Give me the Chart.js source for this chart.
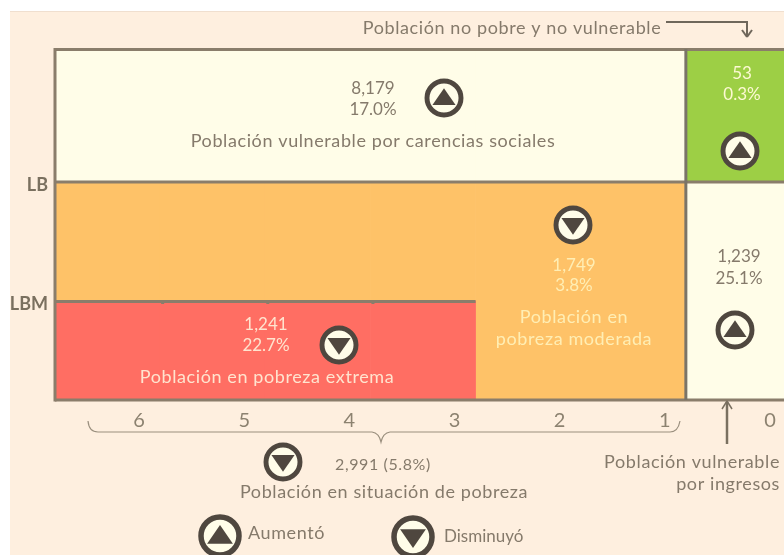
<!DOCTYPE html>
<html>
<head>
<meta charset="utf-8">
<title>Pobreza multidimensional</title>
<script src="https://cdn.jsdelivr.net/npm/chart.js@4/dist/chart.umd.min.js"></script>
<style>
  html, body { margin: 0; padding: 0; background: white; overflow: hidden; }
  #wrap { width: 784px; height: 555px; overflow: hidden; }
</style>
</head>
<body>
<div id="wrap"><canvas id="chart" width="800" height="555"></canvas></div>
<script>
// Carencias sociales on the x axis, income bands on the y axis
var categories = ['6', '5', '4', '3', '2', '1', '0'];
var pobrezaExtrema = [99, 99, 99, 99, 0, 0, 0];
var pobrezaModerada = [119, 119, 119, 119, 218, 218, 0];
var vulnerableCarencias = [133, 133, 133, 133, 133, 133, 0];
var vulnerableIngresos = [0, 0, 0, 0, 0, 0, 218];
var noPobre = [0, 0, 0, 0, 0, 0, 133];

var yMax = 351;
var LBM = 99;
var LB = 218;
var yTicks = [LBM, LB];
var yLabels = {};
yLabels[LBM] = 'LBM';
yLabels[LB] = 'LB';

var FONT = 'Lato, sans-serif';
var LINE = '#8a7d6b';
var INK = '#857a6b';
var DARK = '#4f473f';
var CREAM = '#fffde9';

function label(ctx, str, x, y, color, size, align, spacing) {
  ctx.fillStyle = color;
  ctx.font = (size || 18) + 'px ' + FONT;
  ctx.letterSpacing = (spacing === undefined ? 0.6 : spacing) + 'px';
  ctx.textAlign = align || 'center';
  ctx.textBaseline = 'middle';
  ctx.fillText(str, x, y);
}

// counts and percentages are set a little tighter than the captions
function number(ctx, str, x, y, color) {
  label(ctx, str, x, y, color, 17, 'center', 0);
}

function icon(ctx, x, y, up, r) {
  r = r || 17;
  ctx.beginPath();
  ctx.arc(x, y, r, 0, Math.PI * 2);
  ctx.fillStyle = CREAM;
  ctx.fill();
  ctx.lineWidth = r * 0.29;
  ctx.strokeStyle = DARK;
  ctx.stroke();
  var t = r * 0.68;
  var dir = up ? 1 : -1;
  ctx.beginPath();
  ctx.moveTo(x, y - dir * t * 0.85);
  ctx.lineTo(x + t, y + dir * t * 0.6);
  ctx.lineTo(x - t, y + dir * t * 0.6);
  ctx.closePath();
  ctx.fillStyle = DARK;
  ctx.fill();
}

function segment(ctx, x1, y1, x2, y2, color, width) {
  ctx.beginPath();
  ctx.moveTo(x1, y1);
  ctx.lineTo(x2, y2);
  ctx.strokeStyle = color;
  ctx.lineWidth = width;
  ctx.stroke();
}

var panelPlugin = {
  id: 'panel',
  beforeDraw: function(chart) {
    var ctx = chart.ctx;
    ctx.save();
    ctx.fillStyle = '#feefdf';
    ctx.fillRect(10, 12, 790, 543);
    ctx.fillStyle = '#f0dfcf';
    ctx.fillRect(10, 11, 790, 1);
    ctx.restore();
  }
};

var framePlugin = {
  id: 'frame',
  afterDatasetsDraw: function(chart) {
    var ctx = chart.ctx;
    var ys = chart.scales.y;
    var left = chart.chartArea.left;
    var right = chart.chartArea.right;
    var step = (right - left) / categories.length;
    var yTop = ys.getPixelForValue(yMax);
    var yBottom = ys.getPixelForValue(0);
    var yLB = ys.getPixelForValue(LB);
    var yLBM = ys.getPixelForValue(LBM);
    var split = left + step * 6;
    var redEnd = left + step * 4;
    ctx.save();
    // the small nubs left on the LBM line
    for (var i = 1; i <= 3; i++) {
      ctx.fillStyle = LINE;
      ctx.fillRect(left + step * i + 1, yLBM - 1, 3, 4);
    }
    segment(ctx, left, yLBM + 0.5, redEnd, yLBM + 0.5, LINE, 3);
    segment(ctx, left, yTop + 0.5, right, yTop + 0.5, LINE, 3);
    segment(ctx, left, yLB, right, yLB, LINE, 3);
    segment(ctx, left, yBottom, right, yBottom, LINE, 3);
    segment(ctx, left, yTop - 1, left, yBottom + 1.5, LINE, 3);
    segment(ctx, split, yTop, split, yBottom, '#7a7468', 3);
    ctx.restore();
  }
};

var textPlugin = {
  id: 'texts',
  afterDraw: function(chart) {
    var ctx = chart.ctx;
    ctx.save();
    label(ctx, 'Población no pobre y no vulnerable', 512, 28, INK);
    segment(ctx, 666, 22, 748, 22, '#6f675b', 2);
    segment(ctx, 747, 21, 747, 37, '#6f675b', 2);
    segment(ctx, 742, 30, 747, 37, '#6f675b', 2);
    segment(ctx, 752, 30, 747, 37, '#6f675b', 2);

    number(ctx, '8,179', 373, 89, INK);
    number(ctx, '17.0%', 373, 110, INK);
    label(ctx, 'Población vulnerable por carencias sociales', 373, 141, INK);
    icon(ctx, 444, 98, true);

    number(ctx, '53', 742, 74, '#fdf9d3');
    number(ctx, '0.3%', 742, 95, '#fdf9d3');
    icon(ctx, 740, 151, true);

    icon(ctx, 573, 225, false);
    number(ctx, '1,749', 574, 266, '#ffeeb4');
    number(ctx, '3.8%', 574, 286, '#ffeeb4');
    label(ctx, 'Población en', 574, 317, '#ffeeb4');
    label(ctx, 'pobreza moderada', 574, 339, '#ffeeb4');

    number(ctx, '1,239', 739, 257, INK);
    number(ctx, '25.1%', 739, 279, INK);
    icon(ctx, 735, 330, true);

    number(ctx, '1,241', 266, 325, '#ffe4cf');
    number(ctx, '22.7%', 266, 346, '#ffe4cf');
    label(ctx, 'Población en pobreza extrema', 267, 377, '#ffe4cf');
    icon(ctx, 339, 345, false);

    // brace under the carencias 1 to 6
    ctx.beginPath();
    ctx.moveTo(88, 421);
    ctx.quadraticCurveTo(89, 432, 98, 432);
    ctx.lineTo(372, 432);
    ctx.quadraticCurveTo(379, 433, 381, 442);
    ctx.quadraticCurveTo(383, 433, 390, 432);
    ctx.lineTo(670, 432);
    ctx.quadraticCurveTo(678, 432, 680, 421);
    ctx.strokeStyle = '#9a8f7e';
    ctx.lineWidth = 1.2;
    ctx.stroke();

    icon(ctx, 283, 462, false);
    label(ctx, '2,991 (5.8%)', 383, 465, INK, 16);
    label(ctx, 'Población en situación de pobreza', 384, 492, INK);

    // arrow to the vulnerable por ingresos box
    segment(ctx, 727, 444, 727, 402, '#7a7060', 2.5);
    segment(ctx, 722, 409, 727, 401, '#7a7060', 1.5);
    segment(ctx, 732, 409, 727, 401, '#7a7060', 1.5);
    label(ctx, 'Población vulnerable', 780, 462, INK, 18, 'right');
    label(ctx, 'por ingresos', 780, 484, INK, 18, 'right');

    icon(ctx, 220, 536, true, 19);
    label(ctx, 'Aumentó', 248, 533, INK, 18, 'left');
    icon(ctx, 413, 537, false, 19);
    label(ctx, 'Disminuyó', 444, 537, INK, 17, 'left', 0);
    ctx.restore();
  }
};

function bars(name, values, color) {
  return {
    label: name,
    data: values,
    backgroundColor: color,
    borderWidth: 0,
    barPercentage: 1,
    categoryPercentage: 1,
    stack: 'poblacion'
  };
}

var chart = new Chart(document.getElementById('chart'), {
  type: 'bar',
  data: {
    labels: categories,
    datasets: [
      bars('Población en pobreza extrema', pobrezaExtrema, '#ff6e63'),
      bars('Población en pobreza moderada', pobrezaModerada, '#fec268'),
      bars('Población vulnerable por carencias sociales', vulnerableCarencias, '#fffde8'),
      bars('Población vulnerable por ingresos', vulnerableIngresos, '#fffde8'),
      bars('Población no pobre y no vulnerable', noPobre, '#9dcf45')
    ]
  },
  options: {
    responsive: false,
    animation: false,
    layout: { padding: { left: 0, top: 49, right: 9, bottom: 0 } },
    plugins: { legend: { display: false }, tooltip: { enabled: false } },
    scales: {
      x: {
        stacked: true,
        grid: { display: false },
        border: { display: false },
        afterFit: function(scale) { scale.height = 155; },
        ticks: {
          color: '#8c8270',
          font: { family: FONT, size: 20 },
          padding: 1,
          labelOffset: 31.5,
          autoSkip: false,
          maxRotation: 0
        }
      },
      y: {
        stacked: true,
        min: 0,
        max: yMax,
        grid: { display: false },
        border: { display: false },
        afterFit: function(scale) { scale.width = 55; },
        afterBuildTicks: function(scale) {
          scale.ticks = yTicks.map(function(v) { return { value: v }; });
        },
        ticks: {
          color: '#7a705f',
          font: { family: FONT, size: 18, weight: 'bold' },
          padding: -1,
          labelOffset: 3,
          callback: function(value) { return yLabels[value]; }
        }
      }
    }
  },
  plugins: [panelPlugin, framePlugin, textPlugin]
});
</script>
</body>
</html>
